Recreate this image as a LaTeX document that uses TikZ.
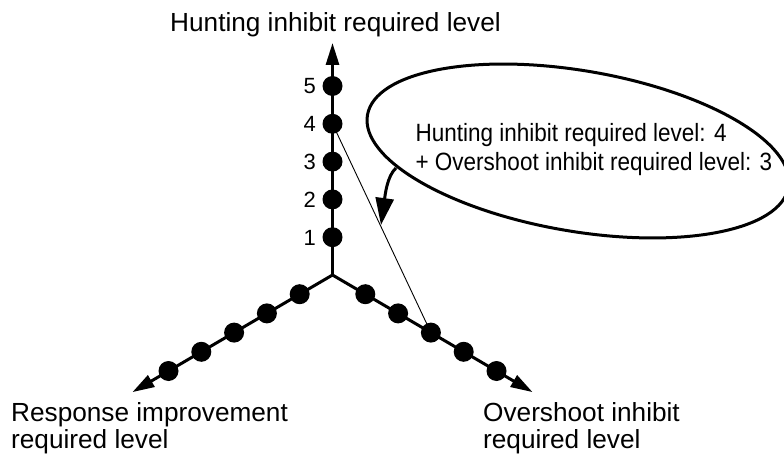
\documentclass[tikz,border=0pt]{standalone}
\usepackage{fontspec}
\setmainfont{Liberation Sans}
\newfontfamily\notefont[FakeStretch=0.9]{Liberation Sans}
\usetikzlibrary{arrows.meta}

\begin{document}
\begin{tikzpicture}[x=1pt,y=-1pt,
  axisline/.style={line width=3pt,-{Triangle[length=22pt,width=13pt]}},
  dot/.style={circle,fill=black,inner sep=0pt,minimum size=20pt},
  ticklabel/.style={anchor=base east,inner sep=0pt,font=\fontsize{22}{22}\selectfont},
  axislabel/.style={anchor=base west,inner sep=0pt,align=left,font=\fontsize{26.2}{26.5}\selectfont},
  notetext/.style={anchor=base west,inner sep=0pt,align=left,font=\notefont\fontsize{25}{29}\selectfont},
  link/.style={line width=0.9pt},
  callout/.style={line width=3pt,-{Triangle[length=27pt,width=18pt]}}
]
\useasboundingbox (0,0) rectangle (784,457);

% origin and the three axis ends
\coordinate (O) at (332.5,275);
\coordinate (hunt-end) at (332.5,43);
\coordinate (resp-end) at ({332.5-32.8*6.1},{275+19.2*6.1});
\coordinate (over-end) at ({332.5+32.8*6.1},{275+19.2*6.1});

% level positions on each axis
\foreach \k in {1,...,5}{
  \coordinate (h\k) at (332.5,{275-37.8*\k});
  \coordinate (r\k) at ({332.5-32.8*\k},{275+19.2*\k});
  \coordinate (o\k) at ({332.5+32.8*\k},{275+19.2*\k});
}

% axes
\draw[axisline] (O) -- (hunt-end);
\draw[axisline] (O) -- (resp-end);
\draw[axisline] (O) -- (over-end);

% combination of hunting level 4 and overshoot level 3
\draw[link] (h4) -- (o3);

% level dots and numbers
\foreach \k in {1,...,5}{
  \node[dot] (dh\k) at (h\k) {};
  \node[dot] (dr\k) at (r\k) {};
  \node[dot] (do\k) at (o\k) {};
  \node[ticklabel] (n\k) at (316,{275-37.8*\k+8}) {\k};
}

% axis titles (anchored on the baseline of their last line)
\node[axislabel] (hunt-label) at (170,31.7) {Hunting inhibit required level};
\node[axislabel] (resp-label) at (11,448) {Response improvement\\required level};
\node[axislabel] (over-label) at (483,448) {Overshoot inhibit\\required level};

% callout
\coordinate (ell) at (578,151);
\draw[line width=3pt,rotate around={-9.7:(ell)}] (ell) ellipse [x radius=213.6pt,y radius=80.3pt];
\node[notetext] (note) at (415.4,170.7) {Hunting inhibit required level: 4\\+ Overshoot inhibit required level: 3};
\coordinate (callout-start) at (396,168);
\coordinate (callout-tip) at (381,225);
\draw[callout] (callout-start) .. controls (387,176) and (385,196) .. (callout-tip);
\end{tikzpicture}
\end{document}
